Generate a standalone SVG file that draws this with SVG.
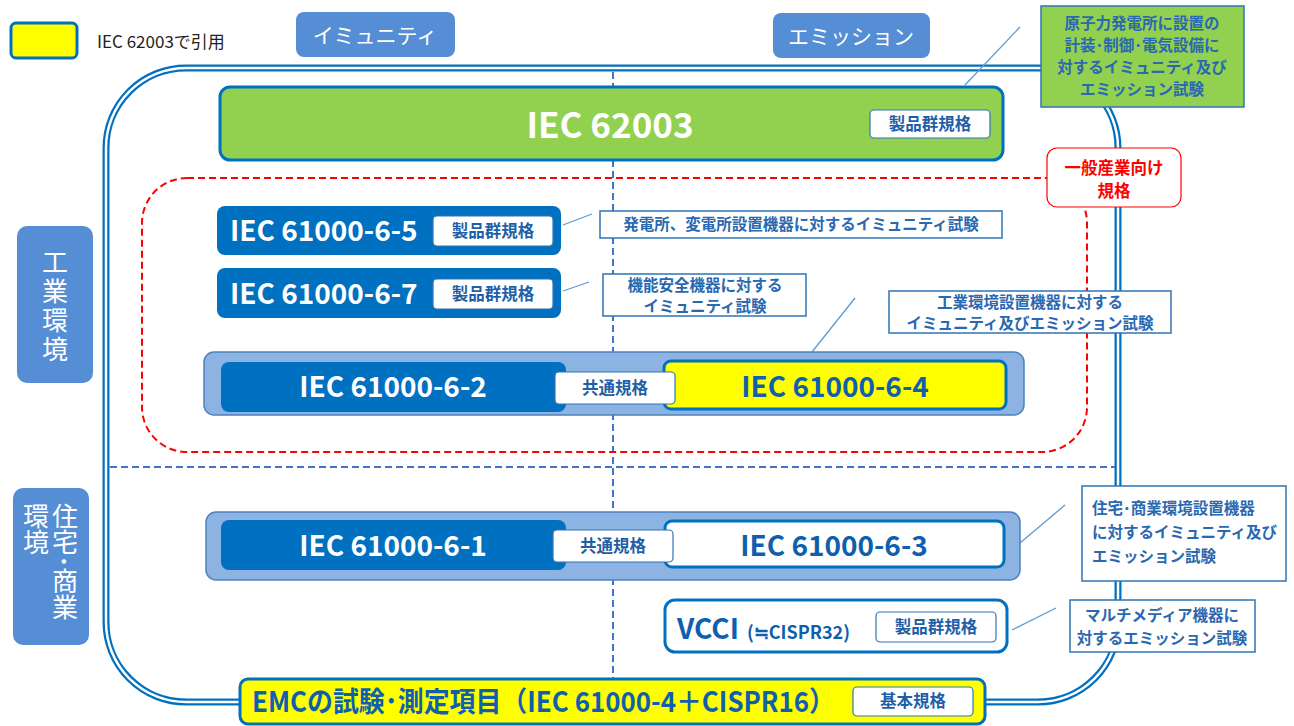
<svg xmlns="http://www.w3.org/2000/svg" width="1294" height="726" viewBox="0 0 1294 726">
<style>
text{font-family:"Noto Sans CJK JP","Noto Sans",sans-serif}
.tab{fill:#558ed5}
.tabt{fill:#fff;font-size:21px;text-anchor:middle}
.vt{fill:#fff;font-size:26px;writing-mode:vertical-rl}
.dark{fill:#0070c0}
.wt{fill:#fff;font-weight:bold;font-size:28px}
.bt{fill:#0f5fae;font-weight:bold;font-size:28px}
.lbl{fill:#fff;stroke:#2e75b6;stroke-width:1.2}
.lblt{fill:#1f5fa8;font-weight:bold;font-size:16.5px;text-anchor:middle}
.note{fill:#fff;stroke:#2e75b6;stroke-width:1.5}
.notet{fill:#2a68b0;font-weight:bold;font-size:15.5px}
.grp{fill:#8db3e2;stroke:#4f81bd;stroke-width:1.5}
.conn{stroke:#5b9bd5;stroke-width:1.3;fill:none}
.mid{text-anchor:middle}
</style>
<rect width="1294" height="726" fill="#fff"/>
<g id="frame">
<rect x="106" y="68" width="1012" height="634" rx="80" fill="none" stroke="#0070c0" stroke-width="7"/>
<rect x="106" y="68" width="1012" height="634" rx="80" fill="none" stroke="#fff" stroke-width="2.5"/>
<line x1="613" y1="72" x2="613" y2="682" stroke="#4472c4" stroke-width="2" stroke-dasharray="7 4"/>
<line x1="110" y1="467" x2="1115" y2="467" stroke="#4472c4" stroke-width="2" stroke-dasharray="7 4"/>
<rect x="142" y="178" width="945" height="274" rx="45" fill="none" stroke="#ff0000" stroke-width="2" stroke-dasharray="7 4"/>
</g>
<g id="legend">
<rect x="11" y="23" width="66" height="35" rx="5" fill="#ffff00" stroke="#0070c0" stroke-width="3"/>
<text x="97" y="48" font-size="17" fill="#222">IEC 62003で引用</text>
</g>
<g id="tab-immunity"><rect class="tab" x="296" y="12" width="159" height="45" rx="8"/><text class="tabt" x="375" y="43">イミュニティ</text></g>
<g id="tab-emission"><rect class="tab" x="773" y="13" width="157" height="45" rx="8"/><text class="tabt" x="851" y="44">エミッション</text></g>
<g id="tab-industrial"><rect class="tab" x="17" y="226" width="76" height="157" rx="10"/>
<text class="vt" x="55" y="249" letter-spacing="3">工業環境</text></g>
<g id="tab-residential"><rect class="tab" x="13" y="488" width="76" height="157" rx="10"/>
<text class="vt" x="65" y="503">住宅･商業</text>
<text class="vt" x="36" y="503">環境</text></g>
<g id="connectors">
<line class="conn" x1="1020" y1="27" x2="965" y2="85"/>
<line class="conn" x1="563" y1="225" x2="592" y2="214"/>
<line class="conn" x1="563" y1="291" x2="589" y2="282"/>
<line class="conn" x1="855" y1="298" x2="812" y2="352"/>
<line class="conn" x1="1020" y1="543" x2="1065" y2="505"/>
<line class="conn" x1="1012" y1="630" x2="1056" y2="608"/>
</g>
<g id="iec62003">
<rect x="220" y="87" width="783" height="73" rx="10" fill="#92d050" stroke="#0070c0" stroke-width="3"/>
<text x="610" y="138" fill="#fff" font-weight="bold" font-size="35" text-anchor="middle">IEC 62003</text>
<rect class="lbl" x="870" y="110" width="120" height="28" rx="4"/><text class="lblt" x="930" y="130">製品群規格</text>
</g>
<g id="note-nuclear">
<rect x="1041" y="6" width="203" height="101" fill="#92d050" stroke="#2e75b6" stroke-width="1.5"/>
<text class="notet mid" x="1142" y="29" font-size="16">原子力発電所に設置の</text>
<text class="notet mid" x="1142" y="51" font-size="16">計装･制御･電気設備に</text>
<text class="notet mid" x="1142" y="73" font-size="16">対するイミュニティ及び</text>
<text class="notet mid" x="1142" y="95" font-size="16">エミッション試験</text>
</g>
<g id="general-label">
<rect x="1047" y="148" width="134" height="59" rx="10" fill="#fff" stroke="#ff0000" stroke-width="1.2"/>
<text x="1114" y="174" fill="#ff0000" font-weight="bold" font-size="16.5" text-anchor="middle">一般産業向け</text>
<text x="1114" y="197" fill="#ff0000" font-weight="bold" font-size="16.5" text-anchor="middle">規格</text>
</g>
<g id="iec61000-6-5">
<rect class="dark" x="217" y="206" width="344" height="49" rx="8"/>
<text class="wt" x="230" y="241">IEC 61000-6-5</text>
<rect class="lbl" x="433" y="216" width="120" height="30" rx="4"/><text class="lblt" x="493" y="237">製品群規格</text>
</g>
<g id="note-6-5">
<rect class="note" x="600" y="211" width="402" height="27"/>
<text class="notet mid" x="801" y="230">発電所、変電所設置機器に対するイミュニティ試験</text>
</g>
<g id="iec61000-6-7">
<rect class="dark" x="217" y="268" width="344" height="50" rx="8"/>
<text class="wt" x="230" y="304">IEC 61000-6-7</text>
<rect class="lbl" x="433" y="279" width="120" height="30" rx="4"/><text class="lblt" x="493" y="300">製品群規格</text>
</g>
<g id="note-6-7">
<rect class="note" x="603" y="274" width="203" height="42"/>
<text class="notet mid" x="705" y="291">機能安全機器に対する</text>
<text class="notet mid" x="705" y="312">イミュニティ試験</text>
</g>
<g id="note-industrial">
<rect class="note" x="889" y="291" width="282" height="42"/>
<text class="notet mid" x="1030" y="308">工業環境設置機器に対する</text>
<text class="notet mid" x="1030" y="329">イミュニティ及びエミッション試験</text>
</g>
<g id="industrial-common">
<rect class="grp" x="204" y="352" width="820" height="63" rx="10"/>
<rect class="dark" x="221" y="362" width="345" height="50" rx="8"/>
<text class="wt mid" x="393" y="397">IEC 61000-6-2</text>
<rect x="664" y="361" width="342" height="48" rx="7" fill="#ffff00" stroke="#0070c0" stroke-width="3"/>
<text class="bt mid" x="835" y="397">IEC 61000-6-4</text>
<rect class="lbl" x="555" y="372" width="120" height="32" rx="4"/><text class="lblt" x="615" y="394">共通規格</text>
</g>
<g id="residential-common">
<rect class="grp" x="206" y="512" width="814" height="68" rx="10"/>
<rect class="dark" x="221" y="520" width="345" height="50" rx="8"/>
<text class="wt mid" x="393" y="556">IEC 61000-6-1</text>
<rect x="665" y="521" width="339" height="46" rx="7" fill="#fff" stroke="#0070c0" stroke-width="3"/>
<text class="bt mid" x="834" y="556">IEC 61000-6-3</text>
<rect class="lbl" x="553" y="530" width="120" height="32" rx="4"/><text class="lblt" x="613" y="552">共通規格</text>
</g>
<g id="note-residential">
<rect class="note" x="1082" y="486" width="204" height="95"/>
<text class="notet" x="1092" y="514" font-size="16.5">住宅･商業環境設置機器</text>
<text class="notet" x="1092" y="538" font-size="16.5">に対するイミュニティ及び</text>
<text class="notet" x="1092" y="562" font-size="16.5">エミッション試験</text>
</g>
<g id="vcci">
<rect x="665" y="600" width="342" height="52" rx="10" fill="#fff" stroke="#0070c0" stroke-width="3"/>
<text class="bt" x="677" y="639">VCCI<tspan font-size="18" dx="8">(≒CISPR32)</tspan></text>
<rect class="lbl" x="876" y="612" width="120" height="30" rx="4"/><text class="lblt" x="936" y="633">製品群規格</text>
</g>
<g id="note-vcci">
<rect class="note" x="1070" y="600" width="185" height="52"/>
<text class="notet mid" x="1162" y="621">マルチメディア機器に</text>
<text class="notet mid" x="1162" y="644">対するエミッション試験</text>
</g>
<g id="emc-basic">
<rect x="240" y="679" width="745" height="45" rx="8" fill="#ffff00" stroke="#0070c0" stroke-width="3"/>
<text class="bt" x="252" y="712" font-size="26" textLength="583" lengthAdjust="spacingAndGlyphs">EMCの試験･測定項目（IEC 61000-4＋CISPR16）</text>
<rect class="lbl" x="853" y="687" width="120" height="29" rx="4"/><text class="lblt" x="913" y="707">基本規格</text>
</g>
</svg>
